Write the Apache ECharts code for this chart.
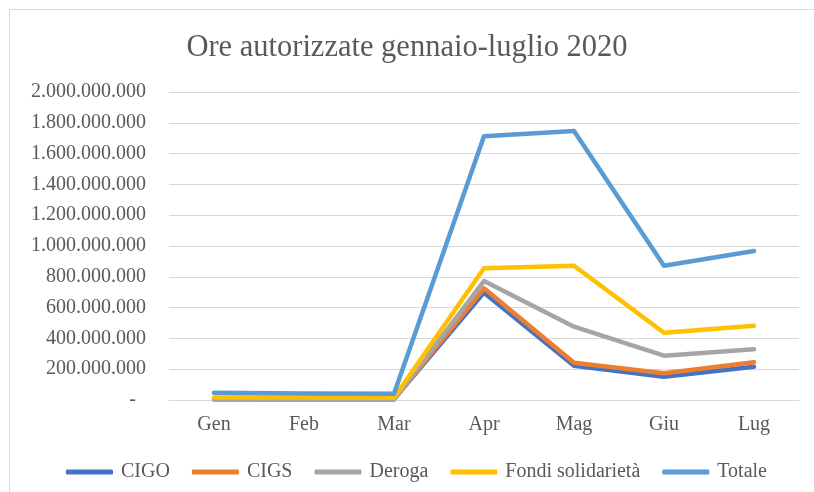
<!DOCTYPE html>
<html>
<head>
<meta charset="utf-8">
<script src="https://cdn.jsdelivr.net/npm/echarts@6/dist/echarts.min.js"></script>
<style>html,body{margin:0;padding:0;background:#fff}#c{width:814px;height:492px}</style>
</head>
<body>
<div id="c"></div>
<script>
const categories = ['Gen', 'Feb', 'Mar', 'Apr', 'Mag', 'Giu', 'Lug'];
const cigo = [10000000, 8000000, 7000000, 697000000, 223000000, 151000000, 216000000];
const cigs = [5000000, 4000000, 4000000, 725000000, 242000000, 173000000, 245000000];
const deroga = [3000000, 2000000, 2000000, 772000000, 476000000, 288000000, 329000000];
const fondi = [17000000, 16000000, 15000000, 855000000, 872000000, 437000000, 482000000];
const totale = [47000000, 43000000, 40000000, 1713000000, 1746000000, 872000000, 967000000];
const seriesNames = ['CIGO', 'CIGS', 'Deroga', 'Fondi solidarietà', 'Totale'];
const seriesData = [cigo, cigs, deroga, fondi, totale];
const colors = ['#4472C4', '#ED7D31', '#A5A5A5', '#FFC000', '#5B9BD5'];

const font = '"Liberation Serif", "Times New Roman", serif';
const chart = echarts.init(document.getElementById('c'));
function fmt(v) {
  if (v === 0) return '-  ';
  return String(Math.round(v)).replace(/\B(?=(\d{3})+(?!\d))/g, '.');
}
chart.setOption({
  animation: false,
  backgroundColor: '#fff',
  graphic: [{
    type: 'rect', shape: {x: 9.5, y: 9.5, width: 900, height: 600},
    style: {fill: 'none', stroke: '#D9D9D9', lineWidth: 1}, silent: true
  }],
  title: {
    text: 'Ore autorizzate gennaio-luglio 2020',
    left: 'center', top: 27,
    textStyle: {fontFamily: font, fontSize: 30.5, fontWeight: 'normal', color: '#595959'}
  },
  legend: {
    data: seriesNames,
    left: 61, top: 457,
    itemWidth: 47, itemHeight: 5, itemGap: 22,
    textStyle: {fontFamily: font, fontSize: 20, color: '#595959', padding: [0, 0, 0, 3]},
    icon: 'roundRect'
  },
  grid: {left: 169, right: 15, top: 92, bottom: 92},
  xAxis: {
    type: 'category', data: categories, boundaryGap: true,
    axisLine: {lineStyle: {color: '#D9D9D9', width: 1}},
    axisTick: {show: false},
    axisLabel: {fontFamily: font, fontSize: 20, color: '#595959', margin: 15}
  },
  yAxis: {
    type: 'value', min: 0, max: 2000000000, interval: 200000000,
    axisLine: {show: false}, axisTick: {show: false},
    splitLine: {lineStyle: {color: '#D9D9D9', width: 1}},
    axisLabel: {fontFamily: font, fontSize: 20, color: '#595959', margin: 23, formatter: fmt}
  },
  series: seriesNames.map((n, i) => ({
    name: n, type: 'line', data: seriesData[i],
    symbol: 'none', color: colors[i],
    lineStyle: {width: 4.5, color: colors[i], cap: 'round', join: 'round'},
    z: 2 + i
  }))
});
</script>
</body>
</html>
